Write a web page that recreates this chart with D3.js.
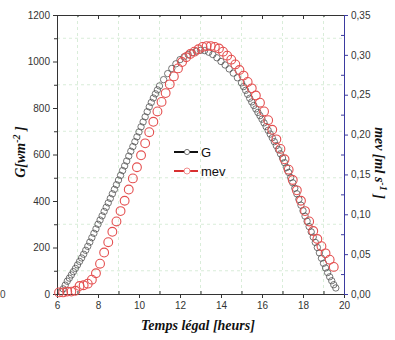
<!DOCTYPE html>
<html>
<head>
<meta charset="utf-8">
<script src="https://cdn.jsdelivr.net/npm/d3@7"></script>
<style>
	body { margin: 0; background: #fff; }
	svg { display: block; }
	.tick text { font-family: "Liberation Sans", Arial, sans-serif; fill: #333; }
</style>
</head>
<body>
<div class="container"></div>
<script>
// heures, rayonnement G (W/m2)
var tG = [6.2,6.3,6.4,6.5,6.6,6.7,6.8,6.9,7.0,7.1,7.2,7.3,7.4,7.5,7.6,7.7,7.8,7.9,8.0,8.1,8.2,8.3,8.4,8.5,8.6,8.7,8.8,8.9,9.0,9.1,9.2,9.3,9.4,9.5,9.6,9.7,9.8,9.9,10.0,10.1,10.2,10.3,10.4,10.5,10.6,10.7,10.8,10.9,11.0,
	11.2,11.4,11.6,11.8,12.0,12.2,12.4,12.6,12.8,13.0,13.2,13.4,13.6,13.8,14.0,14.2,14.4,14.6,14.8,15.0,
	15.1,15.2,15.3,15.4,15.5,15.6,15.7,15.8,15.9,16.0,16.1,16.2,16.3,16.4,16.5,16.6,16.7,16.8,16.9,17.0,17.1,17.2,17.3,17.4,17.5,17.6,17.7,17.8,17.9,18.0,18.1,18.2,18.3,18.4,18.5,18.6,18.7,18.8,18.9,19.0,19.1,19.2,19.3,19.4,19.5,19.6];
var G = [10,22,38,55,68,82,96,110,125,140,155,171,188,205,223,242,261,280,300,318,336,355,373,392,411,431,450,470,490,510,531,551,572,593,614,634,655,676,697,719,740,762,784,805,824,843,861,878,895,
	922,948,970,990,1008,1020,1030,1038,1044,1048,1047,1040,1030,1016,1000,985,968,950,930,908,
	892,876,859,842,826,811,796,781,767,752,736,720,704,688,672,655,638,621,603,585,565,544,523,501,478,455,431,407,382,358,335,313,290,267,245,222,200,177,154,132,112,92,74,57,40,26];

// heures, debit mev (ml/s)
var tMev = [6.1,6.3,6.5,6.7,6.9,7.1,7.3,7.5,7.7,7.9,8.1,8.3,8.5,8.7,8.9,9.1,9.3,9.5,9.7,9.9,10.1,10.3,10.5,10.7,10.9,11.1,11.3,11.5,11.7,11.9,12.1,12.3,12.5,12.7,12.9,13.1,13.3,13.5,13.7,13.9,14.1,14.3,14.5,14.7,14.9,15.1,15.3,15.5,15.7,15.9,16.1,16.3,16.5,16.7,16.9,17.1,17.3,17.5,17.7,17.9,18.1,18.3,18.5,18.7,18.9,19.1,19.3,19.5];
var mev = [0.002,0.002,0.003,0.003,0.004,0.010,0.011,0.013,0.018,0.026,0.038,0.052,0.065,0.078,0.091,0.104,0.117,0.131,0.145,0.159,0.174,0.189,0.203,0.216,0.229,0.241,0.252,0.263,0.273,0.283,0.291,0.297,0.301,0.304,0.307,0.310,0.311,0.311,0.310,0.308,0.304,0.299,0.294,0.288,0.281,0.274,0.266,0.258,0.249,0.240,0.229,0.218,0.206,0.194,0.182,0.169,0.156,0.143,0.130,0.117,0.104,0.091,0.079,0.069,0.060,0.051,0.043,0.034];

var xTicks = [6,8,10,12,14,16,18,20];
var gTicks = [0,200,400,600,800,1000,1200];
var mevTicks = [0,0.05,0.10,0.15,0.20,0.25,0.30,0.35];

var W = 395, H = 340;
var padL = 57, padR = 344, padT = 15, padB = 294;

var svg = d3.select('.container').append("svg")
	.attr("width", W)
	.attr("height", H);

var x = d3.scaleLinear().domain([6, 20]).range([padL, padR]);
var yG = d3.scaleLinear().domain([0, 1200]).range([padB, padT]);
var yM = d3.scaleLinear().domain([0, 0.35]).range([padB, padT]);

// grille verte pointillee sur les graduations mineures
var minorX = [7,9,11,13,15,17,19];
var minorG = [100,300,500,700,900,1100];
var minorM = [0.025,0.075,0.125,0.175,0.225,0.275,0.325];

svg.append("g").selectAll("line").data(minorX).enter().append("line")
	.attr("x1", function (d) { return x(d); }).attr("x2", function (d) { return x(d); })
	.attr("y1", padT).attr("y2", padB)
	.style("stroke", "#cfe8cf").style("stroke-dasharray", "3,3").style("stroke-width", 0.8);
svg.append("g").selectAll("line").data(minorG).enter().append("line")
	.attr("y1", function (d) { return yG(d); }).attr("y2", function (d) { return yG(d); })
	.attr("x1", padL).attr("x2", padR)
	.style("stroke", "#cfe8cf").style("stroke-dasharray", "3,3").style("stroke-width", 0.8);

// axes
function styleAxis(g, col) {
	g.select(".domain").style("stroke", col);
	g.selectAll(".tick line").style("stroke", col);
	g.selectAll(".tick text").style("font-size", "10px");
}

svg.append("g").attr("transform", "translate(0," + padB + ")")
	.call(d3.axisBottom(x).tickValues(xTicks).tickSize(4).tickSizeOuter(0).tickPadding(4))
	.call(styleAxis, "#333");
svg.append("g").attr("transform", "translate(0," + padB + ")")
	.call(d3.axisTop(x).tickValues(minorX).tickSize(3).tickFormat(""))
	.call(styleAxis, "#333").select(".domain").remove();

svg.append("g").attr("transform", "translate(0," + padT + ")")
	.call(d3.axisBottom(x).tickValues(xTicks).tickSize(4).tickSizeOuter(0).tickFormat(""))
	.call(styleAxis, "#333");
svg.append("g").attr("transform", "translate(0," + padT + ")")
	.call(d3.axisBottom(x).tickValues(minorX).tickSize(2).tickFormat(""))
	.call(styleAxis, "#333").select(".domain").remove();

svg.append("g").attr("transform", "translate(" + padL + ",0)")
	.call(d3.axisLeft(yG).tickValues(gTicks).tickSize(4).tickSizeOuter(0).tickPadding(3).tickFormat(d3.format("d")))
	.call(styleAxis, "#333");
svg.append("g").attr("transform", "translate(" + padL + ",0)")
	.call(d3.axisLeft(yG).tickValues(minorG).tickSize(3).tickFormat(""))
	.call(styleAxis, "#333").select(".domain").remove();

var comma = function (d) { return d3.format(".2f")(d).replace(".", ","); };
svg.append("g").attr("transform", "translate(" + padR + ",0)")
	.call(d3.axisRight(yM).tickValues(mevTicks).tickSize(4).tickSizeOuter(0).tickPadding(3).tickFormat(comma))
	.call(styleAxis, "#3b3ba0");
svg.append("g").attr("transform", "translate(" + padR + ",0)")
	.call(d3.axisLeft(yM).tickValues(minorM).tickSize(3).tickFormat(""))
	.call(styleAxis, "#3b3ba0").select(".domain").remove();

// points G (noir) et mev (rouge)
svg.append("g").selectAll("circle").data(tG).enter().append("circle")
	.attr("cx", function (d) { return x(d); })
	.attr("cy", function (d, i) { return yG(G[i]); })
	.attr("r", 3.2)
	.style("fill", "none").style("stroke", "#4a4a4a").style("stroke-width", 0.75);

svg.append("g").selectAll("circle").data(tMev).enter().append("circle")
	.attr("cx", function (d) { return x(d); })
	.attr("cy", function (d, i) { return yM(mev[i]); })
	.attr("r", 4.4)
	.style("fill", "none").style("stroke", "#e45050").style("stroke-width", 1.1);

// legende
var leg = [{name: "G", col: "#111", sym: "#666", r: 2.6, y: 152}, {name: "mev", col: "#d83030", sym: "#f08080", r: 3, y: 171}];
var lg = svg.append("g").selectAll("g").data(leg).enter().append("g");
lg.append("line").attr("x1", 174).attr("x2", 198)
	.attr("y1", function (d) { return d.y; }).attr("y2", function (d) { return d.y; })
	.style("stroke", function (d) { return d.col; }).style("stroke-width", 2);
lg.append("circle").attr("cx", 187).attr("cy", function (d) { return d.y; })
	.attr("r", function (d) { return d.r; })
	.style("fill", "#fff").style("stroke", function (d) { return d.sym; }).style("stroke-width", 0.9);
lg.append("text").attr("x", 201).attr("y", function (d) { return d.y + 4.5; })
	.text(function (d) { return d.name; })
	.style("font-family", "Liberation Sans, Arial, sans-serif").style("font-size", "13px").style("fill", "#111");

// titres des axes
var serif = "Liberation Serif, Times New Roman, serif";
function axisTitle(t) {
	return t.style("font-family", serif).style("font-style", "italic").style("font-weight", "bold")
		.style("font-size", "14px").style("fill", "#111").attr("text-anchor", "middle");
}
axisTitle(svg.append("text").attr("x", 198).attr("y", 330)).text("Temps légal [heurs]");

var tl = axisTitle(svg.append("text").attr("transform", "translate(25,152) rotate(-90)"));
tl.append("tspan").text("G[wm");
tl.append("tspan").attr("dy", -5).style("font-size", "10px").text("-2");
tl.append("tspan").attr("dy", 5).text(" ]");

var tr = axisTitle(svg.append("text").attr("transform", "translate(375,163) rotate(90)"));
tr.append("tspan").text("mev [ml s");
tr.append("tspan").attr("dy", -5).style("font-size", "10px").text("-1");
tr.append("tspan").attr("dy", 5).text(" ]");

// reste d'un graphique voisin
svg.append("text").attr("x", 0).attr("y", 298).text("0")
	.style("font-family", "Liberation Sans, Arial, sans-serif").style("font-size", "10px").style("fill", "#444");
</script>
</body>
</html>
